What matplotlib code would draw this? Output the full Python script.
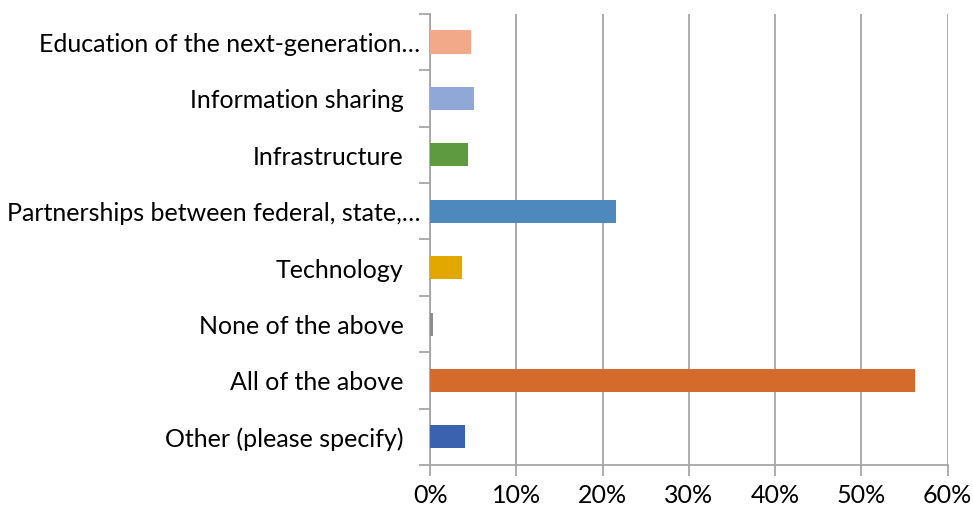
import numpy as np
import matplotlib.pyplot as plt
from matplotlib.ticker import FuncFormatter, MultipleLocator

# categories top -> bottom as shown in the chart
categories = [
    "Education of the next-generation\u2026",
    "Information sharing",
    "Infrastructure",
    "Partnerships between federal, state,\u2026",
    "Technology",
    "None of the above",
    "All of the above",
    "Other (please specify)",
]
values = [4.75, 5.1, 4.4, 21.6, 3.7, 0.3, 56.25, 4.05]
colors = ["#F2A98A", "#8FA8D8", "#5E9A3F", "#4E89BD",
          "#E2A800", "#8C8C8C", "#D46B2A", "#3A62AE"]
xticks = [0, 10, 20, 30, 40, 50, 60]

plt.rcParams['font.family'] = ['Lato', 'DejaVu Sans']

fig = plt.figure(figsize=(9.73, 5.10), dpi=100)
ax = fig.add_axes([0.442, 0.086, 0.532, 0.885])

pos = np.arange(len(categories))[::-1]
ax.barh(pos, values, height=0.41, color=colors, zorder=3)

ax.set_xlim(0, 60)
ax.set_ylim(-0.5, len(categories) - 0.5)
ax.set_xticks(xticks)
ax.xaxis.set_major_formatter(FuncFormatter(lambda v, p: "%d%%" % v))
ax.set_yticks(pos)
ax.set_yticklabels([])
ax.yaxis.set_minor_locator(MultipleLocator(1, offset=0.5))

# category labels: excel leaves extra room after non-truncated labels
trans = ax.get_yaxis_transform()
for y, lab in zip(pos, categories):
    off = -7 if lab.endswith("\u2026") else -19
    ax.annotate(lab, (0, y), xycoords=trans, xytext=(off, -1),
                textcoords="offset points", ha="right", va="center",
                fontsize=18)

grey = "#A6A6A6"
ax.grid(axis="x", color=grey, linewidth=1.3, zorder=0)
for s in ["top", "right"]:
    ax.spines[s].set_visible(False)
for s in ["left", "bottom"]:
    ax.spines[s].set_color(grey)
    ax.spines[s].set_linewidth(1.3)

ax.tick_params(axis="y", which="major", length=0)
ax.tick_params(axis="y", which="minor", length=8, color=grey, width=1.3)
ax.tick_params(axis="x", which="major", length=8, color=grey, width=1.3,
               labelsize=18, pad=5)

fig.savefig("out.png", dpi=100)
